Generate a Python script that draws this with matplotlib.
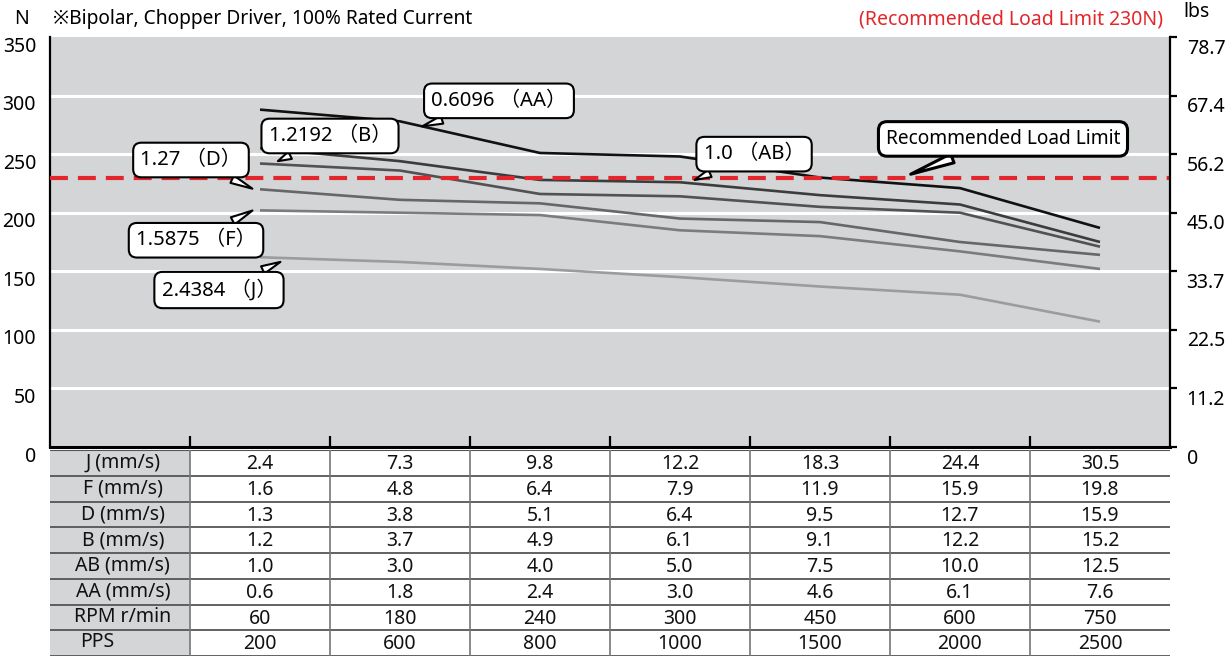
import matplotlib
matplotlib.use("Agg")
import matplotlib.pyplot as plt
from matplotlib.transforms import ScaledTranslation
from matplotlib.patches import Rectangle

plt.rcParams['font.family'] = ['Noto Sans', 'Noto Sans CJK JP', 'DejaVu Sans']

# ---------------- data ----------------
x_pos = [1.5, 2.5, 3.5, 4.5, 5.5, 6.5, 7.5]   # column centers of the speed table
series_names = ["AA", "AB", "B", "D", "F", "J"]
thrust_AA = [288, 278, 251, 248, 230, 221, 187]
thrust_AB = [255, 244, 228, 226, 215, 207, 175]
thrust_B = [242, 236, 216, 214, 205, 200, 171]
thrust_D = [220, 211, 208, 195, 192, 175, 164]
thrust_F = [202, 200, 198, 185, 180, 167, 152]
thrust_J = [162, 158, 152, 145, 137, 130, 107]
series_colors = ["#111111", "#3c3c3c", "#525252", "#676767", "#7c7c7c", "#9c9c9c"]

load_limit = 230
y_ticks = [0, 50, 100, 150, 200, 250, 300, 350]
lbs_labels = ["0", "11.2", "22.5", "33.7", "45.0", "56.2", "67.4", "78.7"]

row_labels = ["J (mm/s)", "F (mm/s)", "D (mm/s)", "B (mm/s)", "AB (mm/s)", "AA (mm/s)", "RPM r/min", "PPS"]
row_J = ["2.4", "7.3", "9.8", "12.2", "18.3", "24.4", "30.5"]
row_F = ["1.6", "4.8", "6.4", "7.9", "11.9", "15.9", "19.8"]
row_D = ["1.3", "3.8", "5.1", "6.4", "9.5", "12.7", "15.9"]
row_B = ["1.2", "3.7", "4.9", "6.1", "9.1", "12.2", "15.2"]
row_AB = ["1.0", "3.0", "4.0", "5.0", "7.5", "10.0", "12.5"]
row_AA = ["0.6", "1.8", "2.4", "3.0", "4.6", "6.1", "7.6"]
row_RPM = ["60", "180", "240", "300", "450", "600", "750"]
row_PPS = ["200", "600", "800", "1000", "1500", "2000", "2500"]

# callouts: text, text position (x, N), tip position (x, N)
callout_texts = ["0.6096 （AA）", "1.2192 （B）", "1.27 （D）", "1.5875 （F）", "2.4384 （J）", "1.0 （AB）"]
callout_text_xy = [(3.207, 295.5), (2.0, 265.5), (1.007, 245.0), (1.043, 176.5), (1.207, 134.0), (5.029, 250.0)]
callout_tip_xy = [(2.64, 273), (1.61, 243), (1.464, 219.5), (1.464, 203), (1.664, 159), (4.586, 227)]

# ---------------- figure ----------------
W, H = 1230, 658
fig = plt.figure(figsize=(W / 100, H / 100), dpi=100)
fig.patch.set_facecolor("white")
FS = 14

L, R, T, B = 50, 1170, 37, 447
ax = fig.add_axes([L / W, 1 - B / H, (R - L) / W, (B - T) / H])
ax.set_facecolor("#d4d5d7")
ax.set_xlim(0, 8)
ax.set_ylim(0, 350)

for v in y_ticks[1:-1]:
    ax.axhline(v, color="white", lw=2.2, zorder=1)

all_series = [thrust_AA, thrust_AB, thrust_B, thrust_D, thrust_F, thrust_J]
for vals, c in zip(all_series[::-1], series_colors[::-1]):
    ax.plot(x_pos, vals, color=c, lw=1.9, zorder=3, solid_capstyle="butt")

ax.axhline(load_limit, color="#e3262b", lw=3, linestyle=(0, (4.3, 2.4)), zorder=4)

for s in ["top", "right"]:
    ax.spines[s].set_visible(False)
ax.spines["left"].set_linewidth(1.6)
ax.spines["bottom"].set_linewidth(2.2)

ax.set_xticks([1, 2, 3, 4, 5, 6, 7])
ax.set_xticklabels([])
ax.tick_params(axis="x", direction="in", length=8, width=1.6, color="black")
ax.set_yticks(y_ticks)
ax.set_yticklabels([str(v) for v in y_ticks])
ax.tick_params(axis="y", length=0, pad=10, labelsize=FS)
off = ScaledTranslation(0, -7 / 100, fig.dpi_scale_trans)
for lab in ax.get_yticklabels():
    lab.set_transform(lab.get_transform() + off)

ax2 = ax.twinx()
ax2.set_ylim(0, 350)
ax2.set_yticks(y_ticks)
ax2.set_yticklabels(lbs_labels)
for s in ["top", "left", "bottom"]:
    ax2.spines[s].set_visible(False)
ax2.spines["right"].set_linewidth(1.6)
ax2.tick_params(axis="y", direction="out", length=5, width=1.6, pad=7, labelsize=FS)
off2 = ScaledTranslation(0, -9 / 100, fig.dpi_scale_trans)
for lab in ax2.get_yticklabels():
    lab.set_transform(lab.get_transform() + off2)

# callouts
for txt, txy, tip in zip(callout_texts, callout_text_xy, callout_tip_xy):
    ax.annotate(txt, xy=tip, xytext=txy, fontsize=14.6, ha="center", va="center", zorder=6,
                bbox=dict(boxstyle="round,pad=0.36,rounding_size=0.4", fc="white", ec="black", lw=1.5),
                arrowprops=dict(arrowstyle="wedge,tail_width=0.4,shrink_factor=0.5",
                                fc="white", ec="black", lw=1.5))
ax.annotate("Recommended Load Limit", xy=(6.129, 232), xytext=(6.807, 263), fontsize=13.8,
            ha="center", va="center", zorder=6,
            bbox=dict(boxstyle="round,pad=0.38,rounding_size=0.45", fc="white", ec="black", lw=2.2),
            arrowprops=dict(arrowstyle="wedge,tail_width=0.5,shrink_factor=0.5",
                            fc="white", ec="black", lw=2.2))

# header texts
fig.text(22 / W, 1 - 19 / H, "N", fontsize=FS, ha="center", va="center")
fig.text(53 / W, 1 - 19 / H, "※Bipolar, Chopper Driver, 100% Rated Current", fontsize=13.8,
         ha="left", va="center")
fig.text(1163 / W, 1 - 20 / H, "(Recommended Load Limit 230N)", fontsize=FS, color="#e3262b",
         ha="right", va="center")
fig.text(1183 / W, 1 - 12 / H, "lbs", fontsize=FS, ha="left", va="center")

# ---------------- table ----------------
TT, TB = 450, 656
tax = fig.add_axes([L / W, 1 - TB / H, (R - L) / W, (TB - TT) / H])
tax.set_xlim(0, 8)
tax.set_ylim(8, 0)
tax.axis("off")
rows = [row_J, row_F, row_D, row_B, row_AB, row_AA, row_RPM, row_PPS]
tax.add_patch(Rectangle((0, 0), 1, 8, fc="#d4d5d7", ec="none", zorder=0))
for i in range(9):
    tax.plot([0, 8], [i, i], color="#555555", lw=1.3 if i > 0 else 1.5, zorder=2,
             solid_capstyle="butt")
for j in range(1, 8):
    tax.plot([j, j], [0, 8], color="#777777", lw=1.2, zorder=2)
for i, (lab, row) in enumerate(zip(row_labels, rows)):
    if i == len(row_labels) - 1:
        tax.text(0.215, i + 0.45, lab, fontsize=FS, ha="left", va="center", color="#111111")
    else:
        tax.text(0.52, i + 0.5, lab, fontsize=FS, ha="center", va="center", color="#111111")
    for j, v in enumerate(row):
        tax.text(j + 1.5, i + 0.55, v, fontsize=FS, ha="center", va="center", color="#111111")

fig.savefig("out.png", dpi=100, facecolor="white")
